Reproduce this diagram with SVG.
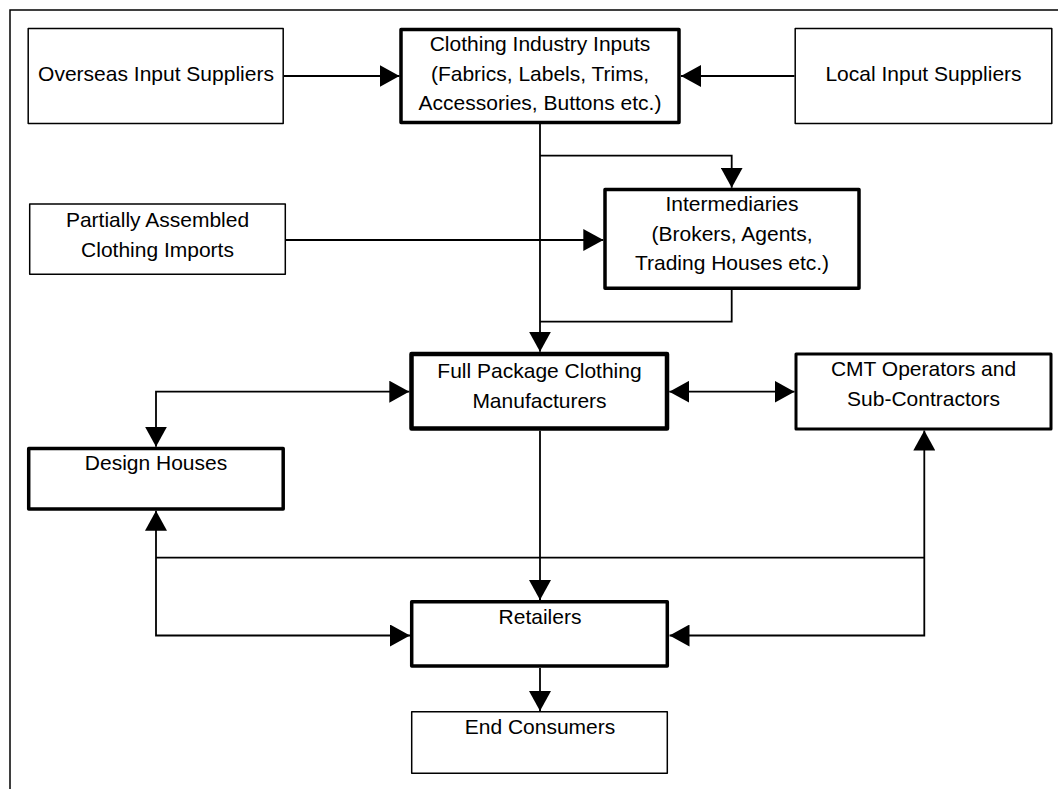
<svg xmlns="http://www.w3.org/2000/svg" width="1058" height="789" viewBox="0 0 1058 789">
  <style>
    .box{fill:#fff;stroke:#000;stroke-linejoin:round}
    .thin{stroke-width:1.5}
    .mid{stroke-width:3}
    .thick{stroke-width:3.5}
    .heavy{stroke-width:4.5}
    .conn{fill:none;stroke:#000;stroke-width:1.8}
    text{font-family:"Liberation Sans",Arial,sans-serif;font-size:21px;fill:#000;text-anchor:middle}
  </style>
  <defs>
    <marker id="arr" markerUnits="userSpaceOnUse" markerWidth="20" markerHeight="22" refX="20" refY="11" orient="auto-start-reverse">
      <path d="M0,0 L20,11 L0,22 Z" fill="#000"/>
    </marker>
  </defs>
  <rect width="1058" height="789" fill="#fff"/>
  <path d="M10,789 V10 H1058" fill="none" stroke="#000" stroke-width="1.5"/>

  <g id="connectors">
    <path class="conn" d="M284,76 H399.5" marker-end="url(#arr)"/>
    <path class="conn" d="M794.5,76 H681" marker-end="url(#arr)"/>
    <path class="conn" d="M540,124 V351.7" marker-end="url(#arr)"/>
    <path class="conn" d="M540,155.7 H731.7 V187.7" marker-end="url(#arr)"/>
    <path class="conn" d="M286,240 H603.3" marker-end="url(#arr)"/>
    <path class="conn" d="M731.7,290 V321.7 H540"/>
    <path class="conn" d="M409.3,391.7 H156 V446.7" marker-start="url(#arr)" marker-end="url(#arr)"/>
    <path class="conn" d="M669.3,391.7 H794.5" marker-start="url(#arr)" marker-end="url(#arr)"/>
    <path class="conn" d="M540,430.7 V600"/>
    <path class="conn" d="M540,580 V600" marker-end="url(#arr)"/>
    <path class="conn" d="M156,557.7 H924.3"/>
    <path class="conn" d="M410,635.5 H156 V510.7" marker-start="url(#arr)" marker-end="url(#arr)"/>
    <path class="conn" d="M669.5,635.5 H924.3 V430.5" marker-start="url(#arr)" marker-end="url(#arr)"/>
    <path class="conn" d="M540,668 V711" marker-end="url(#arr)"/>
  </g>

  <g id="overseas">
    <rect class="box thin" x="28.2" y="28.4" width="255" height="95"/>
    <text x="156" y="80.5">Overseas Input Suppliers</text>
  </g>
  <g id="inputs">
    <rect class="box thick" x="401" y="29.5" width="278" height="93"/>
    <text x="540" y="51">Clothing Industry Inputs</text>
    <text x="540" y="80.5">(Fabrics, Labels, Trims,</text>
    <text x="540" y="110">Accessories, Buttons etc.)</text>
  </g>
  <g id="local">
    <rect class="box thin" x="795.2" y="28.4" width="256.6" height="95"/>
    <text x="923.5" y="80.5">Local Input Suppliers</text>
  </g>
  <g id="partial">
    <rect class="box thin" x="29.7" y="204" width="255.6" height="70.3"/>
    <text x="157.5" y="226.5">Partially Assembled</text>
    <text x="157.5" y="256.5">Clothing Imports</text>
  </g>
  <g id="intermediaries">
    <rect class="box thick" x="605" y="189.5" width="254" height="98.7"/>
    <text x="732" y="210.5">Intermediaries</text>
    <text x="732" y="240.5">(Brokers, Agents,</text>
    <text x="732" y="270">Trading Houses etc.)</text>
  </g>
  <g id="fullpackage">
    <rect class="box heavy" x="411.5" y="354" width="255.5" height="74.5"/>
    <text x="539.5" y="378.3">Full Package Clothing</text>
    <text x="539.5" y="408.3">Manufacturers</text>
  </g>
  <g id="cmt">
    <rect class="box mid" x="796" y="354" width="255" height="75"/>
    <text x="923.5" y="375.5">CMT Operators and</text>
    <text x="923.5" y="405.5">Sub-Contractors</text>
  </g>
  <g id="design">
    <rect class="box thick" x="28.7" y="448.5" width="254.5" height="60.5"/>
    <text x="156" y="470">Design Houses</text>
  </g>
  <g id="retailers">
    <rect class="box thick" x="411.7" y="601.7" width="255.6" height="64.3"/>
    <text x="540" y="624">Retailers</text>
  </g>
  <g id="consumers">
    <rect class="box thin" x="411.7" y="711.7" width="255.6" height="61.6"/>
    <text x="540" y="734">End Consumers</text>
  </g>
</svg>
